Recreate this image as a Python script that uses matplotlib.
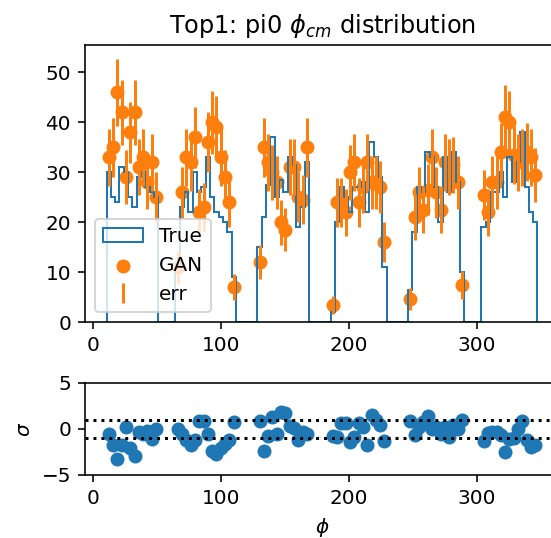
import numpy as np
import matplotlib
matplotlib.use("Agg")
import matplotlib.pyplot as plt

# Histogram binning for phi_cm (degrees)
phi_lo, phi_hi, n_bins = 10.3, 347.3, 100
phi_ticks = [0, 100, 200, 300]

# Reference ("True") counts per bin
true_counts = [
    30, 25, 24, 31, 30, 25, 23, 29, 30, 27, 26, 25,
    0, 0, 0, 0,
    11, 23, 26, 22, 30, 26, 27, 33, 25, 22, 21, 20, 18, 9,
    0, 0, 0, 0, 0,
    15, 21, 27.5, 37, 25, 28.5, 26, 33, 31.5, 19, 23, 32,
    0, 0, 0, 0, 0,
    2, 20, 27, 25, 22, 27, 27, 28, 22, 36, 33, 29, 11,
    0, 0, 0, 0, 0,
    6.5, 18, 27, 26, 34, 33, 27, 20, 33, 26, 34, 28, 10,
    0, 0, 0, 0,
    19, 20, 26, 26, 30, 25, 33, 28, 32, 38, 27, 22, 20,
]

# Generated ("GAN") counts per bin
gan_counts = [
    33, 35, 46, 42, 29, 38, 42, 31, 33, 28, 32, 25,
    0, 0, 0, 0,
    11, 26, 33, 32, 37, 22, 23, 36, 40, 39, 33, 29, 24, 7,
    0, 0, 0, 0, 0,
    12, 35, 32, 30, 28, 20, 18.5, 31, 31, 25, 24.5, 35,
    0, 0, 0, 0, 0,
    3.4, 24, 24, 22, 30, 32, 24, 27, 32, 28, 28, 27, 16,
    0, 0, 0, 0, 0,
    4.6, 21, 26, 22.5, 26.5, 33, 26, 22.5, 32, 31, 31.5, 28, 7.4,
    0, 0, 0, 0,
    25.5, 22, 28, 28, 34, 41, 40, 33.5, 32, 33, 34, 33, 29.5,
]

edges = np.linspace(phi_lo, phi_hi, n_bins + 1)
centers = 0.5 * (edges[:-1] + edges[1:])
true = np.asarray(true_counts, dtype=float)
gan = np.asarray(gan_counts, dtype=float)

filled = gan > 0
x_gan = centers[filled]
y_gan = gan[filled]
err = np.sqrt(y_gan)
sigma = (true[filled] - y_gan) / err

W, H, DPI = 551, 538, 144
fig = plt.figure(figsize=(W / DPI, H / DPI), dpi=DPI)

xlim = (-6.55, 364.15)

ax = fig.add_axes([85 / W, 1 - 322 / H, 474 / W, 277 / H])
ax.hist(centers, bins=edges, weights=true, histtype="step", color="C0", label="True")
ax.scatter(x_gan, y_gan, color="C1", label="GAN")
ax.errorbar(x_gan, y_gan, yerr=err, fmt="none", ecolor="C1", label="err")
ax.set_xlim(*xlim)
ax.set_xticks(phi_ticks)
ax.set_ylim(0, 55.5)
ax.set_title(r"Top1: pi0 $\phi_{cm}$ distribution")
ax.legend(loc="lower left")

ax2 = fig.add_axes([85 / W, 1 - 475 / H, 474 / W, 92 / H])
ax2.scatter(x_gan, sigma, color="C0")
ax2.axhline(1, color="k", linestyle=":")
ax2.axhline(-1, color="k", linestyle=":")
ax2.set_xlim(*xlim)
ax2.set_xticks(phi_ticks)
ax2.set_ylim(-5, 5)
ax2.set_yticks([-5, 0, 5])
ax2.set_xlabel(r"$\phi$")
ax2.set_ylabel(r"$\sigma$")

fig.savefig("out.png", dpi=DPI)
